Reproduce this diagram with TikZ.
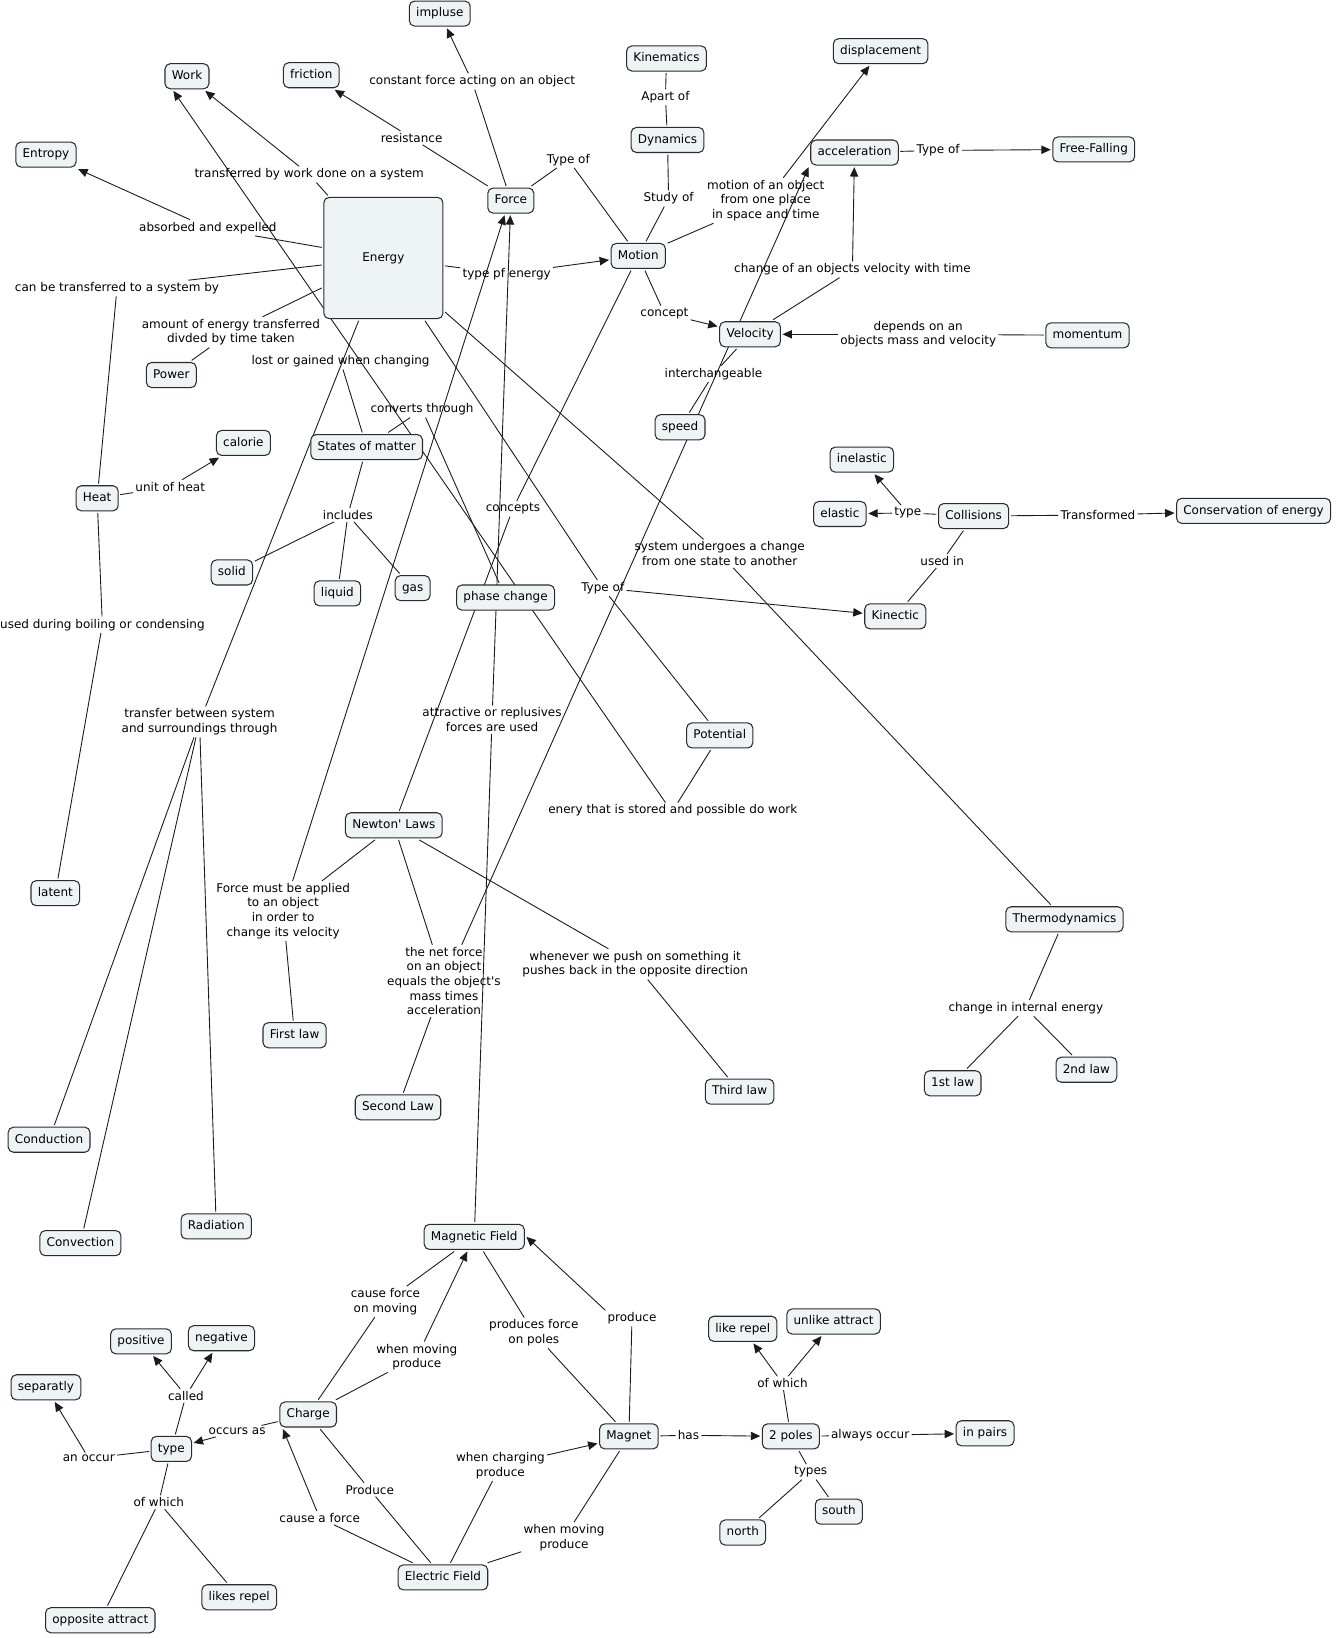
\documentclass[tikz,border=0pt]{standalone}
\usepackage{fontspec}
\setmainfont{DejaVu Sans}
\usetikzlibrary{arrows.meta,backgrounds}
\definecolor{boxfill}{HTML}{EEF3F5}
\definecolor{boxline}{HTML}{2B2B2B}
\definecolor{inkline}{HTML}{1A1A1A}

\begin{document}
\begin{tikzpicture}[
  x=1pt, y=-1pt,
  font=\fontsize{11.5}{14}\selectfont,
  concept/.style={rectangle, draw=boxline, fill=boxfill, rounded corners=5pt, line width=1pt, inner xsep=6.5pt, inner ysep=0pt, minimum height=24pt, text height=8.5pt, text depth=2.2pt, outer sep=2pt},
  phrase/.style={align=center, inner sep=2pt},
  link/.style={line width=0.85pt, inkline},
  arrow/.style={link, -{Triangle[length=9pt, width=8pt]}},
]
\useasboundingbox (0,0) rectangle (1278,1568);

% Concepts, top part
\node[concept] (impulse) at (421,13) {impluse};
\node[concept] (work) at (179,73) {Work};
\node[concept] (friction) at (298,72) {friction};
\node[concept] (kinem) at (638,56) {Kinematics};
\node[concept] (displ) at (843,49) {displacement};
\node[concept] (entropy) at (44,148) {Entropy};
\node[concept] (dynam) at (639,134) {Dynamics};
\node[concept] (accel) at (818,146) {acceleration};
\node[concept] (freefall) at (1047,143) {Free-Falling};
\node[concept, minimum width=114pt, minimum height=116pt] (energy) at (367,247) {Energy};
\node[concept] (force) at (489,192) {Force};
\node[concept] (motion) at (611,245) {Motion};
\node[concept] (veloc) at (718,320) {Velocity};
\node[concept] (momentum) at (1041,321) {momentum};
\node[concept] (power) at (164,359) {Power};
\node[concept] (speed) at (651,409) {speed};

% Concepts, middle part
\node[concept] (calorie) at (233,424) {calorie};
\node[concept] (states) at (351,428) {States of matter};
\node[concept] (inelastic) at (825,440) {inelastic};
\node[concept] (heat) at (93,477) {Heat};
\node[concept] (elastic) at (804,492) {elastic};
\node[concept] (collis) at (932,494) {Collisions};
\node[concept] (conserv) at (1200,489) {Conservation of energy};
\node[concept] (solid) at (222,548) {solid};
\node[concept] (liquid) at (323,568) {liquid};
\node[concept] (gas) at (395,563) {gas};
\node[concept] (phase) at (484,572) {phase change};
\node[concept] (kinetic) at (857,590) {Kinectic};
\node[concept] (potential) at (689,704) {Potential};
\node[concept] (newton) at (377,790) {Newton\textquotesingle{} Laws};
\node[concept] (latent) at (53,855) {latent};
\node[concept] (thermo) at (1019,880) {Thermodynamics};
\node[concept] (firstlaw) at (282,991) {First law};
\node[concept] (lawone) at (912,1037) {1st law};
\node[concept] (lawtwo) at (1040,1024) {2nd law};
\node[concept] (thirdlaw) at (708,1045) {Third law};
\node[concept] (secondlaw) at (381,1060) {Second Law};
\node[concept] (conduct) at (47,1091) {Conduction};
\node[concept] (radiat) at (207,1174) {Radiation};
\node[concept] (convect) at (77,1190) {Convection};

% Concepts, bottom part
\node[concept] (magfield) at (454,1184) {Magnetic Field};
\node[concept] (positive) at (135,1284) {positive};
\node[concept] (negative) at (212,1281) {negative};
\node[concept] (likerep) at (711,1272) {like repel};
\node[concept] (unlike) at (798,1265) {unlike attract};
\node[concept] (separ) at (44,1328) {separatly};
\node[concept] (charge) at (295,1354) {Charge};
\node[concept] (chtype) at (164,1387) {type};
\node[concept] (magnet) at (602,1375) {Magnet};
\node[concept] (poles) at (757,1375) {2 poles};
\node[concept] (pairs) at (943,1372) {in pairs};
\node[concept] (south) at (803,1447) {south};
\node[concept] (north) at (711,1467) {north};
\node[concept] (efield) at (424,1510) {Electric Field};
\node[concept] (likes) at (229,1529) {likes repel};
\node[concept] (opposite) at (96,1551) {opposite attract};

% Linking phrases
\node[phrase] (lconst) at (452,78) {constant force acting on an object};
\node[phrase] (lresist) at (394,132) {resistance};
\node[phrase] (ltrwork) at (296,167) {transferred by work done on a system};
\node[phrase] (ltypeof) at (544,153) {Type of};
\node[phrase] (lapart) at (637,93) {Apart of};
\node[phrase] (lstudy) at (640,190) {Study of};
\node[phrase] (lmotionof) at (733,192) {motion of an object\\from one place\\in space and time};
\node[phrase] (ltypeff) at (898,144) {Type of};
\node[phrase] (labsorb) at (199,218) {absorbed and expelled};
\node[phrase] (lcantr) at (112,276) {can be transferred to a system by};
\node[phrase] (ltypepf) at (485,262) {type pf energy};
\node[phrase] (lchange) at (816,258) {change of an objects velocity with time};
\node[phrase] (lamount) at (221,318) {amount of energy transferred\\divded by time taken};
\node[phrase] (lconcept) at (636,300) {concept};
\node[phrase] (ldepends) at (879,320) {depends on an\\objects mass and velocity};
\node[phrase] (llost) at (326,346) {lost or gained when changing};
\node[phrase] (linterch) at (683,358) {interchangeable};
\node[phrase] (lconverts) at (404,392) {converts through};
\node[phrase] (lunit) at (163,466) {unit of heat};
\node[phrase] (lincludes) at (333,493) {includes};
\node[phrase] (lconcepts) at (491,487) {concepts};
\node[phrase] (lctype) at (869,491) {type};
\node[phrase] (ltransf) at (1051,493) {Transformed};
\node[phrase] (lsystem) at (689,530) {system undergoes a change\\from one state to another};
\node[phrase] (lusedin) at (902,537) {used in};
\node[phrase] (ltypeke) at (577,563) {Type of};
\node[phrase] (lboiling) at (98,598) {used during boiling or condensing};
\node[phrase] (lattract) at (471,689) {attractive or replusives\\forces are used};
\node[phrase] (ltransfer) at (191,691) {transfer between system\\and surroundings through};
\node[phrase] (lstored) at (644,776) {enery that is stored and possible do work};
\node[phrase] (lfmust) at (271,872) {Force must be applied\\to an object\\in order to\\change its velocity};
\node[phrase] (lnetforce) at (425,939) {the net force\\on an object\\equals the object\textquotesingle{}s\\mass times\\acceleration};
\node[phrase] (lpush) at (608,923) {whenever we push on something it\\pushes back in the opposite direction};
\node[phrase] (linternal) at (982,965) {change in internal energy};
\node[phrase] (lcausemov) at (369,1246) {cause force\\on moving};
\node[phrase] (lwhenmov) at (399,1299) {when moving\\produce};
\node[phrase] (lpoles) at (511,1276) {produces force\\on poles};
\node[phrase] (lproduce) at (605,1262) {produce};
\node[phrase] (lcalled) at (178,1336) {called};
\node[phrase] (lofwhich) at (749,1324) {of which};
\node[phrase] (loccurs) at (227,1370) {occurs as};
\node[phrase] (lhas) at (659,1374) {has};
\node[phrase] (lalways) at (833,1374) {always occur};
\node[phrase] (lanoccur) at (85,1396) {an occur};
\node[phrase] (lcharging) at (479,1403) {when charging\\produce};
\node[phrase] (ltypes) at (776,1409) {types};
\node[phrase] (lproducetwo) at (354,1426) {Produce};
\node[phrase] (lofwhichtwo) at (152,1438) {of which};
\node[phrase] (lcauseforce) at (306,1453) {cause a force};
\node[phrase] (lwhenmovtwo) at (540,1472) {when moving\\produce};

\begin{scope}[on background layer]
% Energy
\draw[link] (energy) -- (ltrwork);
\draw[arrow] (ltrwork) -- (work);
\draw[link] (energy) -- (labsorb);
\draw[arrow] (labsorb) -- (entropy);
\draw[link] (energy) -- (lcantr);
\draw[link] (lcantr) -- (heat);
\draw[link] (energy) -- (lamount);
\draw[link] (lamount) -- (power);
\draw[link] (energy) -- (ltypepf);
\draw[arrow] (ltypepf) -- (motion);
\draw[link] (energy) -- (ltransfer);
\draw[link] (ltransfer) -- (conduct);
\draw[link] (ltransfer) -- (convect);
\draw[link] (ltransfer) -- (radiat);
\draw[link] (energy) -- (ltypeke);
\draw[arrow] (ltypeke) -- (kinetic);
\draw[link] (ltypeke) -- (potential);
\draw[link] (energy) -- (lsystem);
\draw[link] (lsystem) -- (thermo);

% Force and motion
\draw[link] (force) -- (lconst);
\draw[arrow] (lconst) -- (impulse);
\draw[link] (force) -- (lresist);
\draw[arrow] (lresist) -- (friction);
\draw[link] (force) -- (ltypeof);
\draw[link] (ltypeof) -- (motion);
\draw[link] (kinem) -- (lapart);
\draw[link] (lapart) -- (dynam);
\draw[link] (dynam) -- (lstudy);
\draw[link] (lstudy) -- (motion);
\draw[link] (motion) -- (lmotionof);
\draw[arrow] (lmotionof) -- (displ);
\draw[link] (motion) -- (lconcept);
\draw[arrow] (lconcept) -- (veloc);
\draw[link] (veloc) -- (lchange);
\draw[arrow] (lchange) -- (accel);
\draw[link] (momentum) -- (ldepends);
\draw[arrow] (ldepends) -- (veloc);
\draw[link] (accel) -- (ltypeff);
\draw[arrow] (ltypeff) -- (freefall);
\draw[link] (speed) -- (linterch);
\draw[link] (linterch) -- (veloc);
\draw[link] (motion) -- (lconcepts);
\draw[link] (lconcepts) -- (newton);

% States of matter and heat
\draw[link] (llost) -- (states);
\draw[link] (states) -- (lconverts);
\draw[link] (lconverts) -- (phase);
\draw[link] (states) -- (lincludes);
\draw[link] (lincludes) -- (solid);
\draw[link] (lincludes) -- (liquid);
\draw[link] (lincludes) -- (gas);
\draw[link] (heat) -- (lunit);
\draw[arrow] (lunit) -- (calorie);
\draw[link] (heat) -- (lboiling);
\draw[link] (lboiling) -- (latent);
\draw[link] (potential) -- (lstored);
\draw[arrow] ([xshift=-7pt]lstored.north) -- ([xshift=10pt]work.south west);
\draw[link] (magfield) -- (lattract);
\draw[arrow] (lattract) -- (force);

% Newton's laws
\draw[link] (newton) -- (lfmust);
\draw[arrow] (lfmust) -- ([xshift=-6pt]force.south);
\draw[link] (lfmust) -- (firstlaw);
\draw[link] (newton) -- (lnetforce);
\draw[link] (lnetforce) -- (secondlaw);
\draw[arrow] ([xshift=17pt]lnetforce.north) -- (accel.south west);
\draw[link] (newton) -- (lpush);
\draw[link] (lpush) -- (thirdlaw);

% Thermodynamics and collisions
\draw[link] (thermo) -- (linternal);
\draw[link] (linternal) -- (lawone);
\draw[link] (linternal) -- (lawtwo);
\draw[link] (collis) -- (lctype);
\draw[arrow] (lctype) -- (elastic);
\draw[arrow] (lctype) -- (inelastic);
\draw[link] (collis) -- (ltransf);
\draw[arrow] (ltransf) -- (conserv);
\draw[link] (collis) -- (lusedin);
\draw[link] (lusedin) -- (kinetic);

% Magnetism and charge
\draw[link] (charge) -- (lcausemov);
\draw[link] (lcausemov) -- (magfield);
\draw[link] (charge) -- (lwhenmov);
\draw[arrow] (lwhenmov) -- (magfield);
\draw[link] (magfield) -- (lpoles);
\draw[link] (lpoles) -- (magnet);
\draw[link] (magnet) -- (lproduce);
\draw[arrow] (lproduce.north west) -- (magfield.east);
\draw[link] (magnet) -- (lhas);
\draw[arrow] (lhas) -- (poles);
\draw[link] (poles) -- (lalways);
\draw[arrow] (lalways) -- (pairs);
\draw[link] (poles) -- (lofwhich);
\draw[arrow] (lofwhich) -- (likerep);
\draw[arrow] (lofwhich) -- (unlike);
\draw[link] (poles) -- (ltypes);
\draw[link] (ltypes) -- (north);
\draw[link] (ltypes) -- (south);
\draw[link] (efield) -- (lcharging);
\draw[arrow] (lcharging) -- (magnet);
\draw[link] (efield) -- (lwhenmovtwo);
\draw[link] (lwhenmovtwo) -- (magnet);
\draw[link] (efield) -- (lproducetwo);
\draw[link] (lproducetwo) -- (charge);
\draw[link] (efield) -- (lcauseforce);
\draw[arrow] (lcauseforce) -- ([xshift=5pt]charge.south west);
\draw[link] (charge) -- (loccurs);
\draw[arrow] (loccurs) -- (chtype);
\draw[link] (chtype) -- (lcalled);
\draw[arrow] (lcalled) -- (positive);
\draw[arrow] (lcalled) -- (negative);
\draw[link] (chtype) -- (lanoccur);
\draw[arrow] (lanoccur) -- (separ);
\draw[link] (chtype) -- (lofwhichtwo);
\draw[link] (lofwhichtwo) -- (opposite);
\draw[link] (lofwhichtwo) -- (likes);
\end{scope}
\end{tikzpicture}
\end{document}
